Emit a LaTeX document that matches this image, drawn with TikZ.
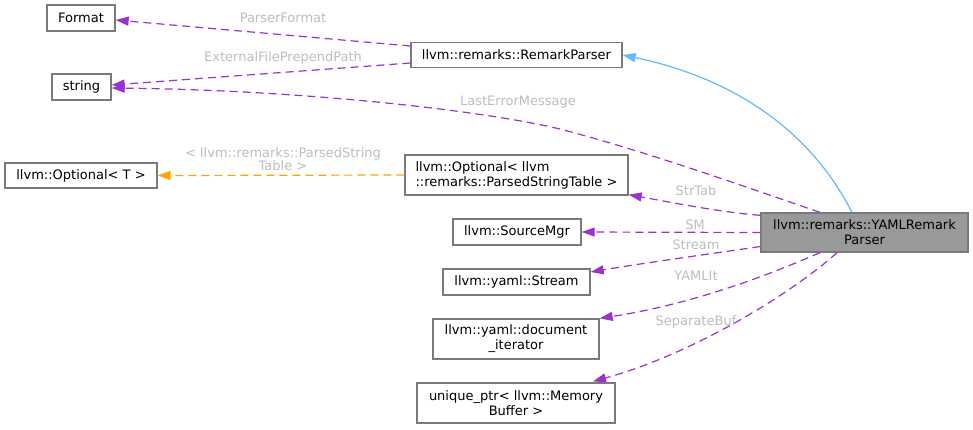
\documentclass[tikz,border=0pt]{standalone}
\usepackage{fontspec}
\setmainfont{DejaVu Sans}
\usetikzlibrary{arrows.meta,calc}
\definecolor{edgepurple}{HTML}{9A32CD}
\definecolor{edgeorange}{HTML}{FFA500}
\definecolor{edgeblue}{HTML}{63B8FF}
\definecolor{boxgray}{HTML}{7A7A7A}
\definecolor{labelgray}{HTML}{BEBEBE}
\definecolor{mainfill}{HTML}{999999}
\begin{document}
\begin{tikzpicture}[x=1pt,y=-1pt,
  box/.style={draw=boxgray, line width=1.3pt, fill=white, inner sep=0pt, align=center,
    font=\fontsize{13}{15}\selectfont},
  lbl/.style={text=labelgray, inner sep=0pt, align=center, font=\fontsize{13}{13}\selectfont},
  tip/.style={-{Triangle[length=13pt,width=9pt]}},
  member/.style={tip, draw=edgepurple, line width=1.2pt, dash pattern=on 8pt off 5pt},
  templ/.style={tip, draw=edgeorange, line width=1.2pt, dash pattern=on 8pt off 5pt},
  inherit/.style={tip, draw=edgeblue, line width=1.2pt}]
\useasboundingbox (0,0) rectangle (973,429);
\fill[white] (0,0) rectangle (973,429);

% nodes
\node[box, minimum width=68pt, minimum height=26pt] (fmt) at (81,18) {Format};
\node[box, minimum width=59pt, minimum height=26pt] (str) at (81.5,87) {string};
\node[box, minimum width=152pt, minimum height=25pt] (optT) at (81,175.5) {llvm::Optional< T >};
\node[box, minimum width=211pt, minimum height=25pt] (rp) at (516.5,55) {llvm::remarks::RemarkParser};
\node[box, minimum width=223pt, minimum height=40pt, align=left] (optP) at (516.5,175) {llvm::Optional< llvm\\::remarks::ParsedStringTable >};
\node[box, minimum width=128pt, minimum height=26pt] (sm) at (517,232) {llvm::SourceMgr};
\node[box, minimum width=147pt, minimum height=26pt] (stream) at (516.5,282) {llvm::yaml::Stream};
\node[box, minimum width=166pt, minimum height=40pt] (doc) at (516,339) {llvm::yaml::document\\\_iterator};
\node[box, minimum width=198pt, minimum height=40pt] (uptr) at (516,403) {unique\_ptr< llvm::Memory\\Buffer >};
\node[box, fill=mainfill, minimum width=207pt, minimum height=39pt] (yaml) at (864.5,232.5) {llvm::remarks::YAMLRemark\\Parser};

% connectors
\draw[inherit] ($(yaml.north)+(-12.5,0)$) .. controls (810,130) and (733,78) .. (rp.east);
\draw[member] ($(rp.west)+(0,-9)$) -- ($(fmt.east)+(0,2)$);
\draw[member] ($(rp.west)+(0,8)$) -- ($(str.east)+(0,-2)$);
\draw[member] ($(yaml.north)+(-44.5,0)$) .. controls (720,178) and (640,150) .. (560,129)
   .. controls (480,110) and (300,90) .. ($(str.east)+(0,1)$);
\draw[templ] (optP.west) -- (optT.east);
\draw[member] ($(yaml.north west)+(0,3)$) .. controls (720,212) and (680,204) .. ($(optP.south east)+(0,-1)$);
\draw[member] (yaml.west) -- (sm.east);
\draw[member] ($(yaml.west)+(0,14)$) .. controls (710,254) and (650,262) .. ($(stream.east)+(0,-10)$);
\draw[member] ($(yaml.south)+(-44.5,0)$) .. controls (780,270) and (700,303) .. (doc.north east);
\draw[member] ($(yaml.south)+(-27.5,0)$) .. controls (790,295) and (690,355) .. ($(uptr.north)+(77,-1)$);

% labels
\node[lbl] (lpf) at (283,18) {ParserFormat};
\node[lbl] (lefp) at (283,58) {ExternalFilePrependPath};
\node[lbl] (lle) at (518,102) {LastErrorMessage};
\node[lbl] (lopt) at (283,159.5) {< llvm::remarks::ParsedString\\Table >};
\node[lbl] (lst) at (696,191) {StrTab};
\node[lbl] (lsm) at (695,225) {SM};
\node[lbl] (lstr) at (696,245) {Stream};
\node[lbl] (lyi) at (696,276) {YAMLIt};
\node[lbl] (lsb) at (696,322) {SeparateBuf};
\end{tikzpicture}
\end{document}
